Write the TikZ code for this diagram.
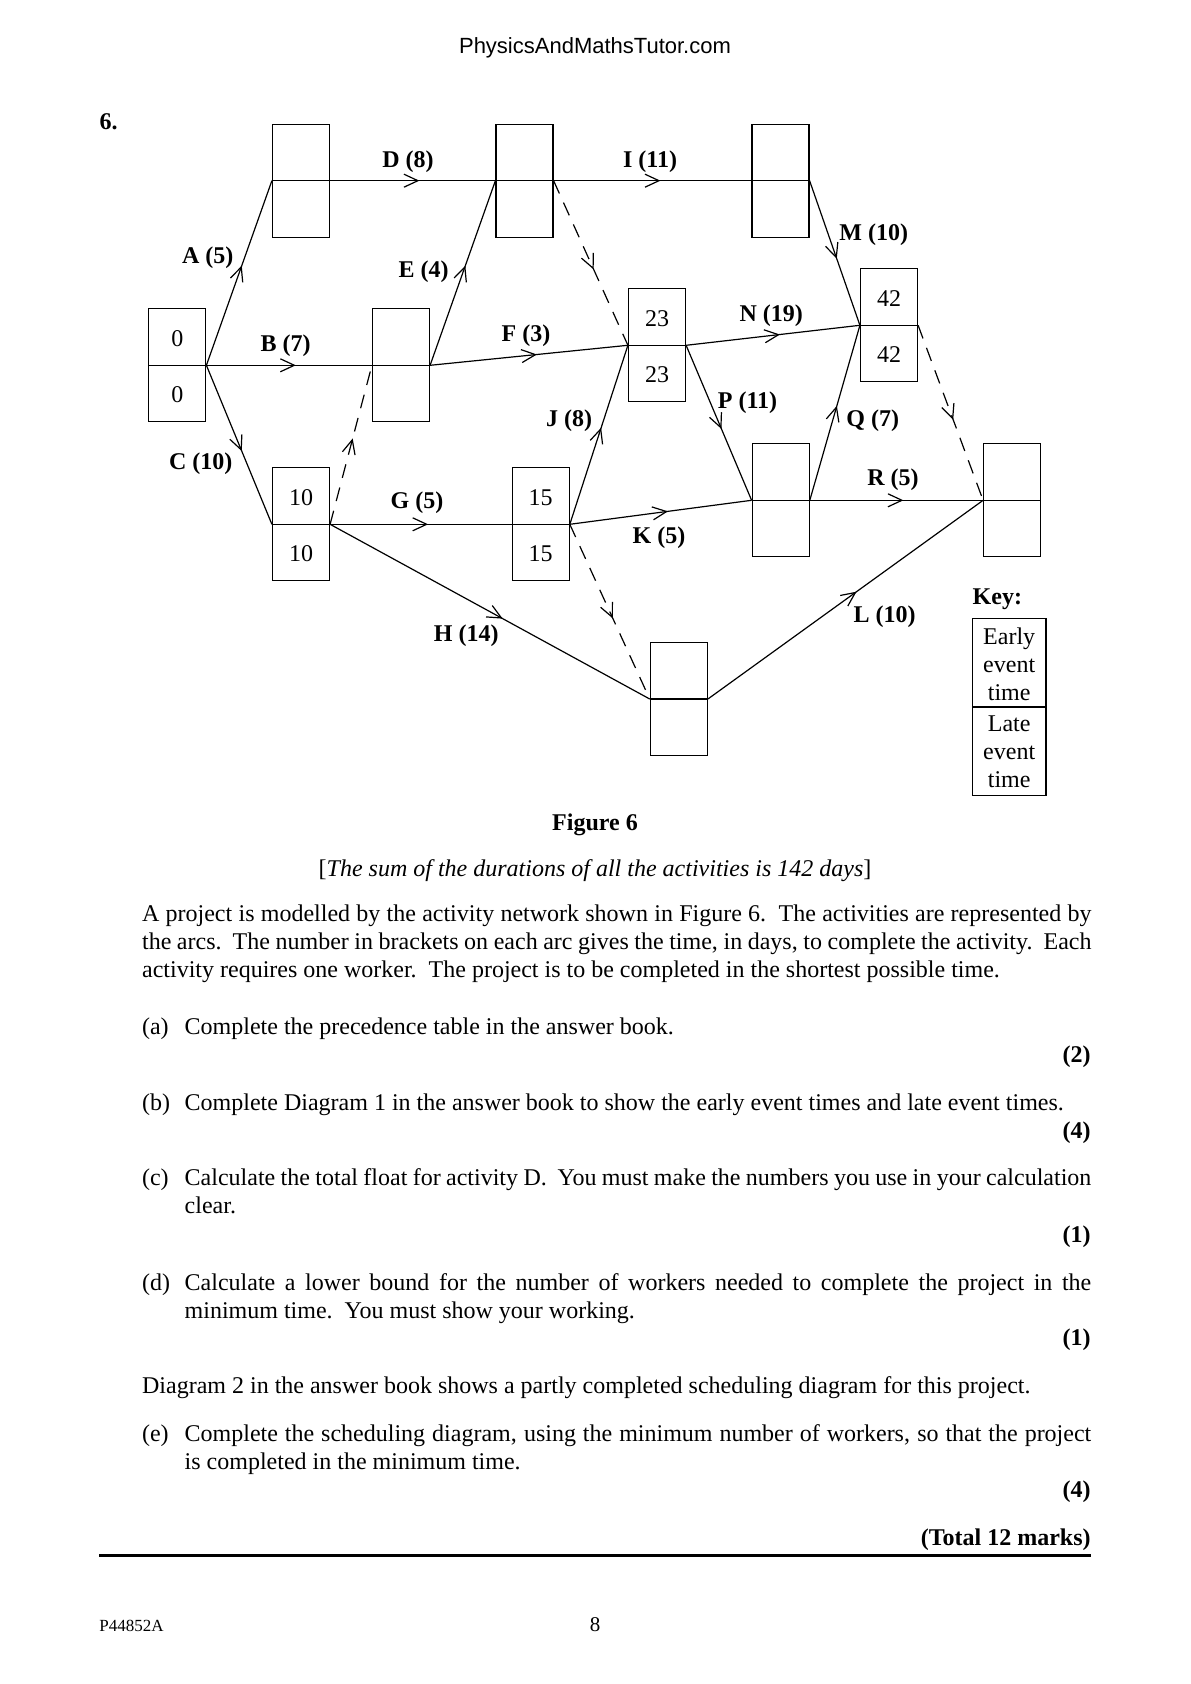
\documentclass[tikz,border=0pt]{standalone}
\usepackage{fontspec}
\setmainfont{Liberation Serif}
\newfontfamily\headfont{Liberation Sans}
\usepackage{tikz}
\usetikzlibrary{arrows.meta, decorations.markings, positioning}

% one event: name, x, y (divider line), early time, late time
\newcommand{\evt}[5]{%
  \node[evbox] (#1) at (#2,#3) {};
  \draw[edgeline] (#1.west) -- (#1.east);
  \node[evnum] (#1-e) at ([yshift=13.4pt]#1.center) {#4};
  \node[evnum] (#1-l) at ([yshift=-14.8pt]#1.center) {#5};
}

\begin{document}
\begin{tikzpicture}[x=0.5pt, y=-0.5pt,
    edgeline/.style={line width=0.6pt},
    evbox/.style={draw, line width=0.6pt, minimum width=28.5pt, minimum height=56.5pt, inner sep=0pt},
    evnum/.style={font=\fontsize{12}{14}\selectfont, inner sep=0pt},
    actlabel/.style={font=\fontsize{12}{14}\selectfont\bfseries, inner sep=0pt},
    act/.style={line width=0.6pt, postaction={decorate},
        decoration={markings, mark=at position 0.54 with {\pgfsetdash{}{0pt}\arrow{Straight Barb[length=7pt,width=6.5pt]}}}},
    dummy/.style={act, dash pattern=on 7pt off 5pt},
    body/.style={font=\fontsize{12}{14}\selectfont, inner sep=0pt},
    score/.style={font=\fontsize{12}{14}\selectfont\bfseries, inner sep=0pt, anchor=base east}
]
\useasboundingbox (0,0) rectangle (1190,1684);

% Header
\node[font=\headfont\fontsize{11}{13}\selectfont, inner sep=0pt, anchor=base] (site) at (595,53.3) {PhysicsAndMathsTutor.com};
\node[body, font=\fontsize{12}{14}\selectfont\bfseries, anchor=base west] (qno) at (99.3,129.3) {6.};

% Events
\evt{start}{177.3}{365.3}{0}{0}
\evt{evA}{301}{180.7}{}{}
\evt{evB}{401}{365.3}{}{}
\evt{evC}{301}{524.3}{10}{10}
\evt{evD}{524.5}{180.7}{}{}
\evt{evG}{540.7}{524.3}{15}{15}
\evt{evF}{657}{345.3}{23}{23}
\evt{evI}{780.5}{180.7}{}{}
\evt{evK}{780.7}{500.3}{}{}
\evt{evH}{678.8}{699}{}{}
\evt{evN}{889}{325.3}{42}{42}
\evt{finish}{1012.2}{500.3}{}{}

% Activities
\draw[act] (start.east) -- (evA.west);
\draw[act] (start.east) -- (evB.west);
\draw[act] (start.east) -- (evC.west);
\draw[act] (evA.east) -- (evD.west);
\draw[act] (evB.east) -- (evD.west);
\draw[act] (evB.east) -- (evF.west);
\draw[act] (evC.east) -- (evG.west);
\draw[act] (evC.east) -- (evH.west);
\draw[act] (evD.east) -- (evI.west);
\draw[act] (evG.east) -- (evF.west);
\draw[act] (evG.east) -- (evK.west);
\draw[act] (evI.east) -- (evN.west);
\draw[act] (evF.east) -- (evN.west);
\draw[act] (evF.east) -- (evK.west);
\draw[act] (evK.east) -- (evN.west);
\draw[act] (evK.east) -- (finish.west);
\draw[act] (evH.east) -- (finish.west);

% Dummies
\draw[dummy] (evC.east) -- (evB.west);
\draw[dummy] (evD.east) -- (evF.west);
\draw[dummy] (evG.east) -- (evH.west);
\draw[dummy] (evN.east) -- (finish.west);

% Activity labels
\node[actlabel] (lA) at (207.7,258) {A (5)};
\node[actlabel] (lB) at (285.5,345.3) {B (7)};
\node[actlabel] (lC) at (200.7,463.7) {C (10)};
\node[actlabel] (lD) at (408,161.3) {D (8)};
\node[actlabel] (lE) at (423.5,272) {E (4)};
\node[actlabel] (lF) at (526,335.3) {F (3)};
\node[actlabel] (lG) at (417,502.7) {G (5)};
\node[actlabel] (lH) at (466.3,635.3) {H (14)};
\node[actlabel] (lI) at (650,161.3) {I (11)};
\node[actlabel] (lJ) at (569,420.3) {J (8)};
\node[actlabel] (lK) at (659,538) {K (5)};
\node[actlabel] (lL) at (884.5,617) {L (10)};
\node[actlabel] (lM) at (873.7,234.7) {M (10)};
\node[actlabel] (lN) at (771.3,315.3) {N (19)};
\node[actlabel] (lP) at (747.5,403) {P (11)};
\node[actlabel] (lQ) at (872.7,420.3) {Q (7)};
\node[actlabel] (lR) at (893,480) {R (5)};

% Key
\node[actlabel, anchor=base west] (keytitle) at (972.3,604.3) {Key:};
\node[evbox, minimum width=36.85pt, minimum height=88.3pt] (key) at (1009.2,707) {};
\draw[edgeline] (key.west) -- (key.east);
\node[evnum, align=center] (key-e) at ([yshift=21.6pt]key.center) {Early\\event\\time};
\node[evnum, align=center] (key-l) at ([yshift=-22.6pt]key.center) {Late\\event\\time};

% Caption and question text
\node[body, font=\fontsize{12}{14}\selectfont\bfseries, anchor=base] (figcap) at (595,830) {Figure 6};
\node[body, anchor=base] (sumnote) at (595,876.7) {[\textit{The sum of the durations of all the activities is 142 days}]};
\node[body, anchor=base west, text width=474.7pt, align=justify] (intro) at (141.7,921.7)
  {A project is modelled by the activity network shown in Figure 6.\ \ The activities are represented by\linebreak
   the arcs.\ \ The number in brackets on each arc gives the time, in days, to complete the activity.\ \ Each\linebreak
   activity requires one worker.\ \ The project is to be completed in the shortest possible time.};

\node[body, anchor=base west] (qa) at (141.7,1034.3) {(a)};
\node[body, anchor=base west, text width=453.3pt, align=justify] (qa-text) at (184.3,1034.3)
  {Complete the precedence table in the answer book.};
\node[score] (ma) at (1091,1062.5) {(2)};

\node[body, anchor=base west] (qb) at (141.7,1110) {(b)};
\node[body, anchor=base west, text width=453.3pt, align=justify] (qb-text) at (184.3,1110)
  {Complete Diagram 1 in the answer book to show the early event times and late event times.};
\node[score] (mb) at (1091,1138.5) {(4)};

\node[body, anchor=base west] (qc) at (141.7,1185.7) {(c)};
\node[body, anchor=base west, text width=453.3pt, align=justify] (qc-text) at (184.3,1185.7)
  {Calculate the total float for activity D.\ \ You must make the numbers you use in your calculation\linebreak clear.};
\node[score] (mc) at (1091,1242) {(1)};

\node[body, anchor=base west] (qd) at (141.7,1290) {(d)};
\node[body, anchor=base west, text width=453.3pt, align=justify] (qd-text) at (184.3,1290)
  {Calculate a lower bound for the number of workers needed to complete the project in the\linebreak
   minimum time.\ \ You must show your working.};
\node[score] (md) at (1091,1345.5) {(1)};

\node[body, anchor=base west] (diag2) at (141.7,1393.3) {Diagram 2 in the answer book shows a partly completed scheduling diagram for this project.};

\node[body, anchor=base west] (qe) at (141.7,1441.7) {(e)};
\node[body, anchor=base west, text width=453.3pt, align=justify] (qe-text) at (184.3,1441.7)
  {Complete the scheduling diagram, using the minimum number of workers, so that the project\linebreak
   is completed in the minimum time.};
\node[score] (me) at (1091,1497.5) {(4)};

\node[score] (total) at (1091,1545.5) {(Total 12 marks)};
\draw[line width=1.2pt] (99,1555.5) -- (1091,1555.5);

% Footer
\node[font=\fontsize{8.5}{10}\selectfont, inner sep=0pt, anchor=base west] (code) at (99,1631.7) {P44852A};
\node[font=\fontsize{10.5}{12}\selectfont, inner sep=0pt, anchor=base] (pageno) at (595,1631.7) {8};
\end{tikzpicture}
\end{document}
